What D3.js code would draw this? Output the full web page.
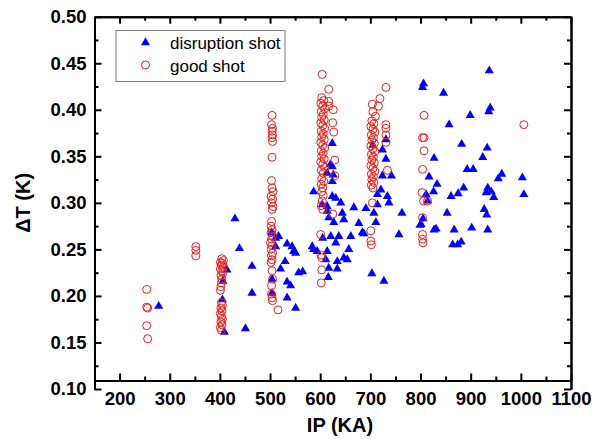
<!DOCTYPE html>
<html>
<head>
<meta charset="utf-8">
<script src="https://cdn.jsdelivr.net/npm/d3@7"></script>
<style>
  body { margin: 0; background: #fff; }
  svg { display: block; }
  .axis path, .axis line { stroke: #000; stroke-width: 2; }
  .axis text { font-family: "Liberation Sans", Arial, sans-serif; font-weight: bold; font-size: 18.5px; fill: #000; }
  .title { font-family: "Liberation Sans", Arial, sans-serif; font-weight: bold; font-size: 20px; }
  .legend text { font-family: "Liberation Sans", Arial, sans-serif; font-size: 17px; }
</style>
</head>
<body>
<svg id="chart" width="604" height="439"></svg>
<script>
// tick values
const xTicks = [200, 300, 400, 500, 600, 700, 800, 900, 1000, 1100];
const yTicks = [0.10, 0.15, 0.20, 0.25, 0.30, 0.35, 0.40, 0.45, 0.50];
const seriesNames = ["disruption shot", "good shot"];

// disruption shots [IP (KA), dT (K)]
const disruptionShots = [
  [278,0.189],
  [414,0.228],[406,0.216],[405,0.196],[409,0.161],
  [430,0.283],[439,0.251],[464,0.232],[464,0.203],[451,0.165],
  [503,0.268],[511,0.262],[517,0.264],[511,0.253],[534,0.256],[544,0.253],[551,0.246],
  [530,0.237],[521,0.229],[557,0.225],[565,0.226],[504,0.218],[534,0.215],[541,0.211],
  [504,0.203],[534,0.198],[551,0.187],[547,0.248],
  [587,0.312],[604,0.298],[614,0.291],[584,0.253],[594,0.248],[605,0.262],[624,0.364],
  [624,0.339],[614,0.332],[624,0.323],[631,0.305],[641,0.300],[614,0.296],[667,0.295],
  [644,0.289],[617,0.284],[627,0.279],[647,0.282],[677,0.278],[684,0.268],[661,0.264],
  [637,0.264],[621,0.264],[631,0.257],[587,0.250],[614,0.248],[657,0.250],[647,0.241],
  [654,0.239],[611,0.239],[634,0.237],[617,0.230],[634,0.229],[616,0.220],[620,0.341],
  [626,0.330],[624,0.307],
  [731,0.368],[724,0.357],[731,0.347],[724,0.329],[742,0.329],[705,0.362],[721,0.314],
  [714,0.309],[734,0.307],[737,0.300],[714,0.298],[691,0.294],[707,0.289],[763,0.289],
  [711,0.279],[687,0.267],[757,0.266],[703,0.224],[727,0.216],
  [806,0.428],[804,0.424],[846,0.418],[937,0.442],[939,0.402],[936,0.398],[899,0.394],
  [857,0.384],[882,0.363],[933,0.359],[924,0.349],[827,0.348],[893,0.336],[905,0.336],
  [817,0.328],[962,0.331],[955,0.326],[1003,0.327],[833,0.320],[826,0.312],[886,0.316],
  [934,0.316],[931,0.311],[941,0.312],[946,0.306],[875,0.310],[861,0.307],[1006,0.309],
  [811,0.309],[814,0.302],[853,0.289],[927,0.293],[932,0.287],[805,0.283],[799,0.276],
  [831,0.272],[867,0.271],[902,0.273],[934,0.271],[864,0.255],[881,0.258],[874,0.255],
  [801,0.277],[827,0.271]
];

// good shots [IP (KA), dT (K)]
const goodShots = [
  [254,0.207],[254,0.188],[256,0.187],[254,0.168],[256,0.154],
  [352,0.253],[352,0.249],[352,0.243],
  [404,0.240],[407,0.238],[401,0.236],[405,0.235],[403,0.233],[407,0.231],[401,0.229],
  [404,0.227],[406,0.225],[402,0.222],[404,0.218],[403,0.214],[402,0.210],[401,0.206],
  [403,0.193],[405,0.190],[402,0.187],[404,0.184],[401,0.181],[403,0.178],[405,0.175],
  [402,0.172],[404,0.169],[401,0.166],[403,0.163],
  [504,0.394],[503,0.384],[505,0.380],[504,0.377],[505,0.373],[504,0.370],[505,0.366],
  [504,0.349],[503,0.324],[504,0.316],[506,0.312],[502,0.307],[505,0.304],[503,0.300],
  [506,0.296],[504,0.293],[503,0.280],[502,0.275],[504,0.271],[502,0.268],[505,0.264],
  [503,0.261],[501,0.257],[504,0.254],[502,0.250],[505,0.246],[503,0.243],[504,0.239],
  [502,0.236],[504,0.227],[505,0.218],[503,0.211],[503,0.202],[504,0.198],[505,0.195],
  [516,0.185],
  [604,0.438],[617,0.422],[603,0.413],[607,0.410],[617,0.409],[601,0.407],[605,0.404],
  [617,0.404],[609,0.401],[626,0.400],[602,0.398],[606,0.395],[603,0.392],[608,0.389],
  [601,0.386],[625,0.386],[605,0.383],[609,0.380],[602,0.377],[627,0.376],[606,0.374],
  [603,0.371],[608,0.368],[601,0.365],[605,0.362],[609,0.359],[602,0.356],[606,0.353],
  [603,0.350],[608,0.347],[629,0.346],[601,0.344],[605,0.341],[609,0.338],[602,0.335],
  [606,0.332],[629,0.329],[603,0.326],[607,0.323],[602,0.320],[605,0.316],[603,0.312],
  [606,0.308],[604,0.302],[602,0.297],[605,0.293],[625,0.288],[601,0.266],[602,0.244],
  [603,0.241],[603,0.228],[602,0.214],
  [731,0.424],[719,0.412],[704,0.406],[716,0.404],[705,0.398],[710,0.393],[703,0.388],
  [707,0.385],[701,0.382],[705,0.379],[731,0.384],[731,0.380],[709,0.376],[702,0.373],
  [731,0.373],[706,0.370],[703,0.367],[708,0.364],[731,0.365],[701,0.361],[705,0.358],
  [709,0.355],[702,0.352],[706,0.349],[703,0.346],[708,0.343],[701,0.340],[705,0.337],
  [734,0.335],[709,0.334],[702,0.331],[706,0.328],[703,0.325],[707,0.322],[702,0.319],
  [705,0.316],[704,0.300],[701,0.270],[701,0.259],[702,0.255],
  [807,0.394],[804,0.370],[807,0.370],[807,0.356],[804,0.336],[803,0.311],[806,0.302],
  [814,0.302],[804,0.284],[804,0.266],[804,0.261],[805,0.257],
  [1006,0.384]
];

const svg = d3.select("#chart");
const plotLeft = 94.5, plotRight = 571, plotTop = 16.7, plotBottom = 389, xAxisY = 380.5;

const x = d3.scaleLinear().domain([150, 1100]).range([plotLeft, plotRight]);
const y = d3.scaleLinear().domain([0.10, 0.50]).range([plotBottom, plotTop]);

const xMinor = d3.range(150, 1101, 50).filter(v => v % 100 !== 0);
const yMinor = d3.range(0.125, 0.5, 0.05);

// bottom axis (ticks inward)
svg.append("g").attr("class", "axis")
  .attr("transform", `translate(0,${xAxisY})`)
  .call(d3.axisBottom(x).tickValues(xTicks).tickSize(-7).tickSizeOuter(0).tickPadding(11).tickFormat(d3.format("d")));
svg.append("g").attr("class", "axis")
  .attr("transform", `translate(0,${xAxisY})`)
  .call(d3.axisBottom(x).tickValues(xMinor).tickSize(-4).tickSizeOuter(0).tickFormat(""));

// top axis
svg.append("g").attr("class", "axis")
  .attr("transform", `translate(0,${plotTop})`)
  .call(d3.axisTop(x).tickValues(xTicks).tickSize(-7).tickSizeOuter(0).tickFormat(""));
svg.append("g").attr("class", "axis")
  .attr("transform", `translate(0,${plotTop})`)
  .call(d3.axisTop(x).tickValues(xMinor).tickSize(-4).tickSizeOuter(0).tickFormat(""));

// left axis
svg.append("g").attr("class", "axis")
  .attr("transform", `translate(${plotLeft},0)`)
  .call(d3.axisLeft(y).tickValues(yTicks).tickSize(-7).tickSizeOuter(0).tickPadding(8).tickFormat(d3.format(".2f")));
svg.append("g").attr("class", "axis")
  .attr("transform", `translate(${plotLeft},0)`)
  .call(d3.axisLeft(y).tickValues(yMinor).tickSize(-4).tickSizeOuter(0).tickFormat(""));

// right axis
svg.append("g").attr("class", "axis")
  .attr("transform", `translate(${plotRight},0)`)
  .call(d3.axisRight(y).tickValues(yTicks).tickSize(-7).tickSizeOuter(0).tickFormat(""));
svg.append("g").attr("class", "axis")
  .attr("transform", `translate(${plotRight},0)`)
  .call(d3.axisRight(y).tickValues(yMinor).tickSize(-4).tickSizeOuter(0).tickFormat(""));

// axis titles
svg.append("text").attr("class", "title")
  .attr("x", 340).attr("y", 432)
  .attr("text-anchor", "middle").text("IP (KA)");
svg.append("text").attr("class", "title")
  .attr("transform", `translate(30,${(plotTop + plotBottom) / 2}) rotate(-90)`)
  .attr("text-anchor", "middle").text("\u0394T (K)");

const tri = d3.symbol().type(d3.symbolTriangle).size(36);

// points
svg.append("g").selectAll("path")
  .data(disruptionShots)
  .enter()
  .append("path")
  .attr("d", tri)
  .attr("transform", d => `translate(${x(d[0])},${y(d[1])})`)
  .attr("fill", "#0000ff");

svg.append("g").selectAll("circle")
  .data(goodShots)
  .enter()
  .append("circle")
  .attr("cx", d => x(d[0]))
  .attr("cy", d => y(d[1]))
  .attr("r", 4)
  .attr("fill", "none")
  .attr("stroke", "#e8201c")
  .attr("stroke-width", 1);

// legend
let legend = svg.append("g").attr("class", "legend");
legend.append("rect")
  .attr("x", 116).attr("y", 30.5).attr("width", 169).attr("height", 51)
  .attr("fill", "#fff").attr("stroke", "#777").attr("stroke-width", 1);
legend.append("path")
  .attr("d", tri)
  .attr("transform", "translate(145.5,42.5)")
  .attr("fill", "#0000ff");
legend.append("circle")
  .attr("cx", 145.5).attr("cy", 65).attr("r", 4)
  .attr("fill", "none").attr("stroke", "#e8201c");
legend.append("text").attr("x", 170).attr("y", 48.5).text(seriesNames[0]);
legend.append("text").attr("x", 170).attr("y", 71.5).text(seriesNames[1]);
</script>
</body>
</html>
